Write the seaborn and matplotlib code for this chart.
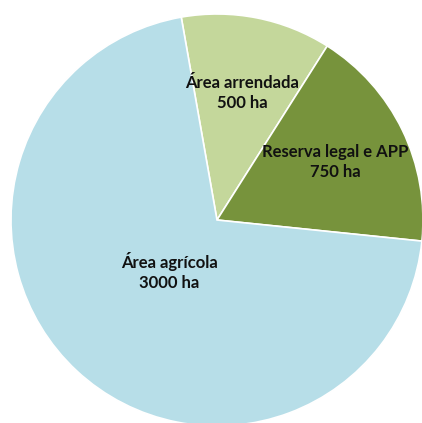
import numpy as np
import matplotlib
matplotlib.use('Agg')
import matplotlib.pyplot as plt
import seaborn as sns

# data
labels = ['Área arrendada', 'Reserva legal e APP', 'Área agrícola']
values = [500, 750, 3000]
units = 'ha'
colors = ['#C4D79B', '#77933C', '#B7DEE8']
label_dist = [0.63, 0.64, 0.34]

sns.set_style('white')
plt.rcParams['font.family'] = ['Lato', 'DejaVu Sans']

fig = plt.figure(figsize=(4.22, 4.23), dpi=100)
r_px = 206
cx, cy = 217, 423 - 220
ax = fig.add_axes([(cx - r_px) / 422, (cy - r_px) / 423, 2 * r_px / 422, 2 * r_px / 423])

wedges, _ = ax.pie(values, colors=colors, startangle=100, counterclock=False,
                   wedgeprops=dict(edgecolor='white', linewidth=1.2))
ax.set_xlim(-1, 1)
ax.set_ylim(-1, 1)
ax.set_aspect('equal')
ax.axis('off')

for w, lab, v, d in zip(wedges, labels, values, label_dist):
    ang = np.deg2rad((w.theta1 + w.theta2) / 2)
    ax.text(d * np.cos(ang), d * np.sin(ang), f'{lab}\n{v} {units}',
            ha='center', va='center', fontsize=12, fontweight='bold',
            color='#111111', linespacing=1.3)

fig.savefig('out.png', dpi=100)
